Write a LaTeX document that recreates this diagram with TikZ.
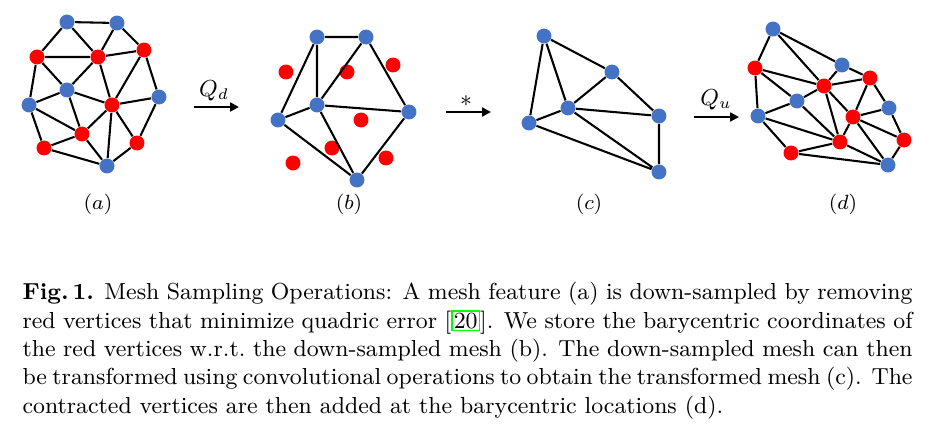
\documentclass[tikz,border=0pt]{standalone}
\usepackage{amsmath}
\usetikzlibrary{arrows.meta}
\definecolor{vertblue}{RGB}{68,114,196}
\definecolor{vertred}{RGB}{255,0,0}
\definecolor{linkgreen}{RGB}{0,255,0}
\newcommand{\citeBox}[1]{{\setlength{\fboxsep}{0.4pt}\setlength{\fboxrule}{0.6pt}\fcolorbox{linkgreen}{white}{#1}}}
\tikzset{
  bvert/.style={circle, fill=vertblue, inner sep=0pt, minimum size=5.8pt},
  rvert/.style={circle, fill=vertred, inner sep=0pt, minimum size=5.8pt},
  edge/.style={line width=0.8pt, black},
  oparrow/.style={line width=1.1pt, -{Triangle[length=3.4pt,width=3.4pt]}},
  sublabel/.style={inner sep=0pt, font=\footnotesize},
}

\begin{document}
\begin{tikzpicture}[x=0.3884pt,y=-0.3884pt]
\useasboundingbox (0,0) rectangle (944,423);
% (a) full mesh
\node[bvert] (a1) at (67,22) {};
\node[bvert] (a2) at (117,23) {};
\node[rvert] (a3) at (37,57) {};
\node[rvert] (a4) at (98,57) {};
\node[rvert] (a5) at (144,50) {};
\node[bvert] (a6) at (67,90) {};
\node[bvert] (a7) at (29,105) {};
\node[rvert] (a8) at (112,105) {};
\node[bvert] (a9) at (159,97) {};
\node[rvert] (a10) at (82,134) {};
\node[rvert] (a11) at (44,148) {};
\node[rvert] (a12) at (137,143) {};
\node[bvert] (a13) at (107,166) {};
\draw[edge] (a1) -- (a2) (a1) -- (a3) (a1) -- (a4) (a2) -- (a4) (a2) -- (a5)
  (a3) -- (a4) (a4) -- (a5) (a3) -- (a6) (a3) -- (a7) (a4) -- (a6)
  (a4) -- (a8) (a5) -- (a8) (a5) -- (a9) (a6) -- (a7) (a6) -- (a8)
  (a6) -- (a10) (a7) -- (a10) (a7) -- (a11) (a8) -- (a9) (a8) -- (a10)
  (a8) -- (a13) (a8) -- (a12) (a9) -- (a12) (a10) -- (a11) (a10) -- (a13)
  (a11) -- (a13) (a12) -- (a13);
\node[sublabel] (la) at (98,204) {$(a)$};
% Q_d
\coordinate (qd0) at (194,107);
\coordinate (qd1) at (239,107);
\draw[oparrow] (qd0) -- (qd1);
\node[inner sep=0pt, font=\small] (qdl) at (214,91) {$Q_d$};
% (b) down-sampled mesh
\node[rvert] (b7) at (286,72) {};
\node[rvert] (b8) at (347,72) {};
\node[rvert] (b9) at (393,65) {};
\node[rvert] (b10) at (361,120) {};
\node[rvert] (b11) at (332,148) {};
\node[rvert] (b12) at (293,163) {};
\node[rvert] (b13) at (386,158) {};
\node[bvert] (b1) at (317,37) {};
\node[bvert] (b2) at (366,37) {};
\node[bvert] (b3) at (317,105) {};
\node[bvert] (b4) at (278,120) {};
\node[bvert] (b5) at (409,112) {};
\node[bvert] (b6) at (357,180) {};
\draw[edge] (b1) -- (b2) (b1) -- (b3) (b1) -- (b4) (b2) -- (b3) (b2) -- (b5)
  (b3) -- (b4) (b3) -- (b5) (b3) -- (b6) (b4) -- (b6) (b5) -- (b6);
\node[sublabel] (lb) at (349,204) {$(b)$};
% convolution
\coordinate (cv0) at (446,112);
\coordinate (cv1) at (491,112);
\draw[oparrow] (cv0) -- (cv1);
\node[inner sep=0pt, font=\small] (cvl) at (466,101) {$*$};
% (c) transformed mesh
\node[bvert] (c1) at (544,36) {};
\node[bvert] (c2) at (612,72) {};
\node[bvert] (c3) at (568,108) {};
\node[bvert] (c4) at (529,123) {};
\node[bvert] (c5) at (659,116) {};
\node[bvert] (c6) at (659,172) {};
\draw[edge] (c1) -- (c2) (c1) -- (c3) (c1) -- (c4) (c2) -- (c3) (c2) -- (c5)
  (c3) -- (c4) (c3) -- (c5) (c3) -- (c6) (c4) -- (c6) (c5) -- (c6);
\node[sublabel] (lc) at (589,204) {$(c)$};
% Q_u
\coordinate (qu0) at (694,117);
\coordinate (qu1) at (739,117);
\draw[oparrow] (qu0) -- (qu1);
\node[inner sep=0pt, font=\small] (qul) at (716,100) {$Q_u$};
% (d) up-sampled mesh
\node[bvert] (d1) at (773,29) {};
\node[rvert] (d2) at (755,68) {};
\node[bvert] (d3) at (842,65) {};
\node[rvert] (d4) at (870,78) {};
\node[rvert] (d5) at (824,86) {};
\node[bvert] (d6) at (797,101) {};
\node[bvert] (d7) at (889,108) {};
\node[bvert] (d8) at (758,116) {};
\node[rvert] (d9) at (853,117) {};
\node[rvert] (d10) at (840,142) {};
\node[rvert] (d11) at (904,140) {};
\node[rvert] (d12) at (791,153) {};
\node[bvert] (d13) at (888,165) {};
\draw[edge] (d1) -- (d2) (d1) -- (d5) (d1) -- (d3) (d3) -- (d5) (d3) -- (d4)
  (d2) -- (d5) (d2) -- (d6) (d2) -- (d8) (d5) -- (d4) (d5) -- (d6)
  (d5) -- (d10) (d5) -- (d9) (d4) -- (d9) (d4) -- (d7) (d6) -- (d8)
  (d6) -- (d10) (d8) -- (d10) (d8) -- (d12) (d9) -- (d7) (d9) -- (d10)
  (d9) -- (d11) (d9) -- (d13) (d7) -- (d11) (d10) -- (d12) (d10) -- (d13)
  (d11) -- (d13) (d12) -- (d13);
\node[sublabel] (ld) at (843,204) {$(d)$};
% caption
\node[anchor=north west, inner sep=0pt, text width=345.7pt, align=justify, font=\small] (caption) at (22,282)
  {\textbf{Fig.\,1.} Mesh Sampling Operations: A mesh feature (a) is down-sampled by removing\linebreak
   red vertices that minimize quadric error [\citeBox{20}]. We store the barycentric coordinates of\linebreak
   the red vertices w.r.t.\ the down-sampled mesh (b). The down-sampled mesh can then\linebreak
   be transformed using convolutional operations to obtain the transformed mesh (c). The\linebreak
   contracted vertices are then added at the barycentric locations (d).};
\end{tikzpicture}
\end{document}
